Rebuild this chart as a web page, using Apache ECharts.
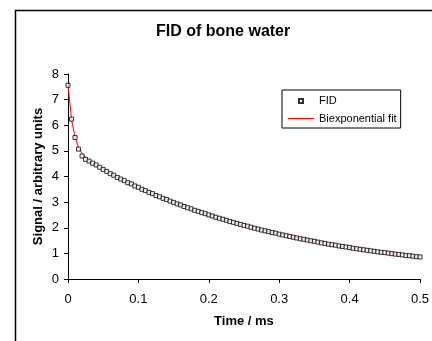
<!DOCTYPE html>
<html>
<head>
<meta charset="utf-8">
<script src="https://cdn.jsdelivr.net/npm/echarts/dist/echarts.min.js"></script>
<style>
  html, body { margin: 0; padding: 0; background: #fff; }
  #chart { width: 432px; height: 341px; }
</style>
</head>
<body>
<div id="chart"></div>
<script>
// time points of the FID (ms)
const times = [
  0, 0.005, 0.01, 0.015, 0.02, 0.025, 0.03, 0.035, 0.04, 0.045,
  0.05, 0.055, 0.06, 0.065, 0.07, 0.075, 0.08, 0.085, 0.09, 0.095,
  0.1, 0.105, 0.11, 0.115, 0.12, 0.125, 0.13, 0.135, 0.14, 0.145,
  0.15, 0.155, 0.16, 0.165, 0.17, 0.175, 0.18, 0.185, 0.19, 0.195,
  0.2, 0.205, 0.21, 0.215, 0.22, 0.225, 0.23, 0.235, 0.24, 0.245,
  0.25, 0.255, 0.26, 0.265, 0.27, 0.275, 0.28, 0.285, 0.29, 0.295,
  0.3, 0.305, 0.31, 0.315, 0.32, 0.325, 0.33, 0.335, 0.34, 0.345,
  0.35, 0.355, 0.36, 0.365, 0.37, 0.375, 0.38, 0.385, 0.39, 0.395,
  0.4, 0.405, 0.41, 0.415, 0.42, 0.425, 0.43, 0.435, 0.44, 0.445,
  0.45, 0.455, 0.46, 0.465, 0.47, 0.475, 0.48, 0.485, 0.49, 0.495,
  0.5
];

// measured signal
const fid = [
  7.56, 6.24, 5.52, 5.07, 4.80, 4.67, 4.60, 4.52, 4.45, 4.36,
  4.27, 4.20, 4.11, 4.05, 3.96, 3.90, 3.84, 3.76, 3.71, 3.63,
  3.58, 3.50, 3.45, 3.38, 3.33, 3.26, 3.21, 3.15, 3.10, 3.04,
  2.99, 2.93, 2.89, 2.83, 2.78, 2.74, 2.68, 2.64, 2.59, 2.55,
  2.50, 2.46, 2.41, 2.37, 2.33, 2.29, 2.24, 2.21, 2.17, 2.13,
  2.09, 2.06, 2.02, 1.98, 1.95, 1.91, 1.88, 1.85, 1.81, 1.79,
  1.75, 1.72, 1.69, 1.66, 1.63, 1.60, 1.57, 1.55, 1.52, 1.49,
  1.47, 1.44, 1.41, 1.39, 1.36, 1.34, 1.32, 1.29, 1.27, 1.25,
  1.23, 1.20, 1.18, 1.16, 1.14, 1.12, 1.10, 1.08, 1.06, 1.04,
  1.03, 1.01, 0.99, 0.97, 0.96, 0.94, 0.92, 0.91, 0.89, 0.87,
  0.86
];

// fitted curve (runs a touch past the last sample)
const fitTimes = times.concat([0.505]);
const fit = [
  7.55, 6.24, 5.53, 5.14, 4.90, 4.74, 4.62, 4.52, 4.43, 4.35,
  4.27, 4.19, 4.12, 4.05, 3.97, 3.90, 3.83, 3.77, 3.70, 3.63,
  3.57, 3.51, 3.45, 3.38, 3.32, 3.27, 3.21, 3.15, 3.10, 3.04,
  2.99, 2.93, 2.88, 2.83, 2.78, 2.73, 2.68, 2.64, 2.59, 2.54,
  2.50, 2.46, 2.41, 2.37, 2.33, 2.29, 2.25, 2.21, 2.17, 2.13,
  2.09, 2.05, 2.02, 1.98, 1.95, 1.91, 1.88, 1.85, 1.81, 1.78,
  1.75, 1.72, 1.69, 1.66, 1.63, 1.60, 1.57, 1.54, 1.52, 1.49,
  1.46, 1.44, 1.41, 1.39, 1.36, 1.34, 1.32, 1.29, 1.27, 1.25,
  1.23, 1.20, 1.18, 1.16, 1.14, 1.12, 1.10, 1.08, 1.06, 1.04,
  1.03, 1.01, 0.99, 0.97, 0.95, 0.94, 0.92, 0.90, 0.89, 0.87,
  0.86, 0.84
];

const FONT = 'Liberation Sans, Arial, sans-serif';

const chart = echarts.init(document.getElementById('chart'), null, { renderer: 'canvas' });

const option = {
  animation: false,
  backgroundColor: '#fff',
  textStyle: { fontFamily: FONT, color: '#000' },
  title: {
    text: 'FID of bone water',
    left: 156,
    top: 24,
    padding: 0,
    textStyle: { fontFamily: FONT, fontSize: 16, fontWeight: 'bold', color: '#000' }
  },
  // outer chart-area frame, runs off the right and bottom edges
  graphic: [{
    type: 'rect',
    silent: true,
    shape: { x: 15.5, y: 10.5, width: 600, height: 600 },
    style: { fill: 'none', stroke: '#000', lineWidth: 1.5 }
  }],
  legend: {
    orient: 'vertical',
    left: 282,
    top: 90,
    width: 117,
    padding: [5, 4, 4, 5],
    itemGap: 6,
    itemWidth: 26,
    itemHeight: 10,
    borderColor: '#000',
    borderWidth: 1,
    textStyle: { fontFamily: FONT, fontSize: 11, color: '#000' },
    data: [
      { name: 'FID', icon: 'path://M0,0M26,10M11,3L15,3L15,7L11,7Z' },
      { name: 'Biexponential fit', icon: 'path://M0,0M26,10M0,4.5L26,4.5L26,5.5L0,5.5Z',
        itemStyle: { color: '#ff0000', borderWidth: 0 } }
    ]
  },
  grid: { left: 68, top: 74, width: 354, height: 205, containLabel: false },
  xAxis: {
    type: 'value',
    min: 0,
    max: 0.5,
    interval: 0.1,
    name: 'Time / ms',
    nameLocation: 'middle',
    nameGap: 36,
    nameTextStyle: { fontFamily: FONT, fontSize: 13, fontWeight: 'bold', color: '#000' },
    axisLine: { show: true, lineStyle: { color: '#000', width: 1 } },
    axisTick: { show: true, length: 4, lineStyle: { color: '#000' } },
    axisLabel: { fontFamily: FONT, fontSize: 13, color: '#000', margin: 14 },
    splitLine: { show: false }
  },
  yAxis: {
    type: 'value',
    min: 0,
    max: 8,
    interval: 1,
    name: 'Signal / arbitrary units',
    nameLocation: 'middle',
    nameGap: 23,
    nameMoveOverlap: false,
    nameTextStyle: { fontFamily: FONT, fontSize: 13, fontWeight: 'bold', color: '#000' },
    axisLine: { show: true, lineStyle: { color: '#000', width: 1 } },
    axisTick: { show: true, length: 4, lineStyle: { color: '#000' } },
    axisLabel: { fontFamily: FONT, fontSize: 13, color: '#000', margin: 9 },
    splitLine: { show: false }
  },
  series: [
    {
      name: 'Biexponential fit',
      type: 'line',
      symbol: 'none',
      clip: false,
      z: 2,
      lineStyle: { color: '#ff0000', width: 1 },
      itemStyle: { color: '#ff0000' },
      data: fitTimes.map((t, i) => [t, fit[i]])
    },
    {
      name: 'FID',
      type: 'scatter',
      symbol: 'rect',
      symbolSize: 4,
      z: 3,
      itemStyle: { color: '#fff', borderColor: '#000', borderWidth: 1 },
      data: times.map((t, i) => [t, fid[i]])
    }
  ]
};

chart.setOption(option);
</script>
</body>
</html>
